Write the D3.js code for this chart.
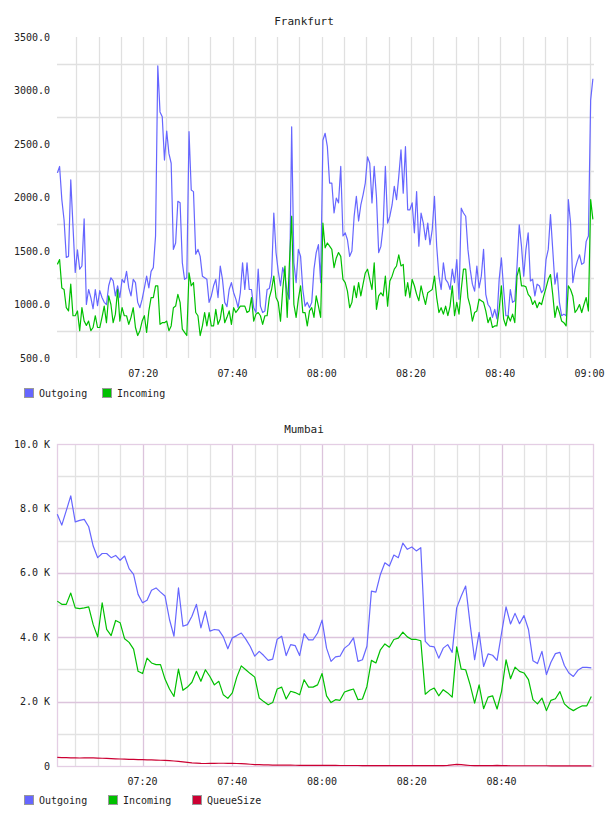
<!DOCTYPE html>
<html>
<head>
<meta charset="utf-8">
<script src="https://cdn.jsdelivr.net/npm/d3@7"></script>
<style>
  body { margin: 0; background: #fff; }
  text { font-family: "DejaVu Sans Mono", monospace; fill: #222; }
</style>
</head>
<body>
<svg id="chart" width="608" height="816"></svg>
<script>
// ---- data ----
const seriesNames = ["Outgoing", "Incoming", "QueueSize"];

// Frankfurt: one sample every 30 s starting 07:00:45
const frankfurtStart = "07:00:45";
const frankfurtStepSec = 30;
const frankfurtOutgoing = [
  2230, 2290, 1980, 1790, 1440, 1450, 2165, 1730, 1300, 1510,
  1330, 1360, 1800, 1000, 1140, 1065, 960, 1140, 990, 1130,
  1065, 1020, 1000, 1175, 1250, 1220, 1080, 1175, 1065, 1235,
  1205, 1310, 1155, 1080, 1235, 1205, 1020, 970, 1050, 1155,
  1265, 1155, 1310, 1345, 1640, 3230, 2800, 2755, 2350, 2620,
  2410, 2320, 1515, 1575, 1965, 1950, 1390, 1235, 1250, 2615,
  2070, 2055, 1470, 1515, 1450, 1265, 1250, 1235, 1020, 1080,
  1175, 1235, 1065, 1360, 1235, 1020, 980, 1140, 1205, 1110,
  1050, 970, 1110, 1390, 1140, 1390, 1140, 1140, 970, 925,
  1330, 985, 925, 940, 1140, 1150, 1265, 1855, 1485, 1310,
  1175, 1345, 1265, 1110, 1050, 2660, 1390, 1205, 1515, 1450,
  1140, 985, 1020, 970, 1020, 1330, 1485, 1560, 1205, 2535,
  2600, 2475, 2135, 2135, 1855, 1995, 1950, 2290, 1640, 1670,
  1605, 1450, 1500, 1825, 2010, 1780, 1930, 2025, 2135, 2380,
  2320, 1950, 2290, 2010, 1485, 1545, 1730, 2290, 1760, 1825,
  1930, 2105, 1980, 2195, 2445, 2040, 2475, 1885, 1885, 1950,
  1670, 2055, 1545, 1855, 1760, 1605, 1760, 1560, 1700, 2010,
  1545, 1265, 1140, 1390, 1235, 1205, 1140, 1330, 1205, 1420,
  1050, 1900, 1855, 1825, 1515, 1330, 1190, 1125, 1360, 1155,
  1265, 1515, 1095, 1000, 970, 880, 955, 865, 1235, 1435,
  1140, 895, 895, 1140, 1020, 1035, 1360, 1745, 1545, 1265,
  1515, 1670, 1220, 1235, 1080, 1190, 1175, 1110, 1140, 1420,
  1515, 1840, 1515, 1190, 1295, 1020, 895, 910, 895, 1980,
  1760, 1205, 1330, 1405, 1465, 1375, 1390, 1590, 1640, 2910,
  3110
];
const frankfurtIncoming = [
  1375, 1420, 1155, 1140, 970, 940, 1190, 895, 895, 940,
  755, 970, 845, 805, 845, 755, 785, 895, 785, 785,
  880, 985, 830, 1080, 1000, 830, 910, 1140, 845, 970,
  895, 895, 815, 880, 970, 785, 710, 755, 845, 895,
  740, 940, 1065, 1065, 1175, 1175, 815, 830, 830, 845,
  755, 800, 970, 985, 1095, 1020, 770, 740, 710, 1295,
  1175, 1205, 925, 895, 710, 800, 925, 800, 925, 800,
  800, 955, 815, 865, 1000, 830, 880, 940, 815, 970,
  925, 955, 985, 985, 985, 925, 940, 1065, 845, 910,
  925, 895, 815, 895, 895, 1065, 1140, 1265, 1065, 1020,
  845, 1140, 1360, 880, 1390, 1825, 1000, 880, 1050, 1175,
  925, 925, 800, 940, 970, 880, 1080, 985, 880, 1760,
  1530, 1575, 1545, 1515, 1345, 1435, 1485, 1450, 1235, 1205,
  1125, 970, 1020, 1175, 1065, 1205, 1080, 1190, 1295, 1330,
  1235, 1140, 1390, 955, 1080, 1110, 1080, 1265, 985, 1220,
  1265, 1330, 1360, 1465, 1360, 1375, 1080, 1205, 1065, 1235,
  1175, 1095, 1035, 1175, 1080, 1000, 1110, 1125, 1140, 1265,
  1065, 925, 970, 910, 985, 895, 985, 1175, 895, 1020,
  910, 1140, 1330, 1330, 1065, 985, 845, 925, 940, 1050,
  1035, 1020, 940, 830, 880, 785, 800, 800, 955, 1175,
  865, 800, 895, 845, 910, 830, 1265, 1345, 1175, 1175,
  1165, 1095, 1070, 1000, 1035, 970, 1020, 1000, 1080, 1155,
  1235, 1280, 1095, 880, 985, 925, 845, 830, 800, 1175,
  1140, 1080, 925, 955, 1000, 925, 1000, 1065, 940, 1980,
  1795
];
const frankfurtYTicks = [500, 1000, 1500, 2000, 2500, 3000, 3500];

// Mumbai: one sample per minute starting 07:01
const mumbaiStart = "07:01:00";
const mumbaiStepSec = 60;
const mumbaiOutgoing = [
  7820, 7480, 7930, 8390, 7580, 7630, 7660, 7430, 6830, 6470,
  6600, 6600, 6470, 6540, 6390, 6520, 6130, 5950, 5330, 5070,
  5150, 5460, 5530, 5400, 5280, 4550, 4030, 5530, 4340, 4390,
  4650, 5020, 4290, 4810, 4190, 4240, 4220, 4010, 3640, 3980,
  4050, 4130, 3940, 3710, 3410, 3560, 3430, 3280, 3320, 3940,
  4030, 3430, 3770, 3740, 3430, 4110, 3920, 3920, 4130, 4530,
  3660, 3250, 3390, 3410, 3660, 3770, 3980, 3250, 3300, 3720,
  5430, 5400, 5950, 6310, 6210, 6550, 6470, 6920, 6730, 6800,
  6680, 6780, 3870, 3720, 3700, 3350, 3660, 3770, 3530, 4910,
  5270, 5590, 4400, 3300, 4150, 3090, 3480, 3440, 3280, 4130,
  4940, 4410, 4740, 4420, 4670, 4240, 3270, 3180, 3560, 2840,
  3220, 3490, 3530, 3120, 2890, 2780, 2970, 3060, 3060, 3050
];
const mumbaiIncoming = [
  5120, 5020, 5020, 5370, 4910, 4890, 4910, 4940, 4390, 4010,
  5070, 4240, 4050, 4520, 4450, 3950, 3840, 3630, 2940, 2870,
  3350, 3200, 3150, 3150, 2700, 2390, 2160, 3010, 2350, 2450,
  2600, 2940, 2630, 2990, 2780, 2520, 2630, 2210, 2100, 2270,
  2760, 3110, 2990, 2870, 2760, 2110, 2000, 1900, 1970, 2390,
  2450, 2080, 2320, 2280, 2210, 2680, 2450, 2450, 2520, 2870,
  2180, 1970, 2060, 2040, 2300, 2350, 2390, 2060, 2080, 2470,
  3280, 3200, 3610, 3790, 3690, 3930, 3970, 4160, 4010, 3930,
  3930, 3890, 2230, 2350, 2420, 2180, 2370, 2270, 2140, 3700,
  3010, 2990, 2520, 1950, 2520, 1780, 2140, 2180, 1770, 2320,
  3300, 2710, 3070, 2940, 2890, 2680, 2060, 1930, 2110, 1720,
  2040, 2090, 2310, 1930, 1800, 1720, 1800, 1870, 1870, 2160
];
const mumbaiQueue = [
  265, 262, 258, 255, 250, 248, 250, 252, 250, 245,
  240, 235, 228, 222, 218, 212, 208, 204, 200, 196,
  192, 188, 182, 178, 172, 165, 155, 145, 130, 115,
  100, 90, 82, 78, 80, 82, 85, 85, 84, 80,
  78, 74, 65, 55, 45, 40, 36, 33, 30, 28,
  27, 26, 25, 24, 22, 21, 20, 20, 19, 18,
  18, 17, 17, 16, 16, 15, 15, 15, 14, 14,
  14, 13, 13, 13, 12, 12, 12, 12, 11, 11,
  11, 11, 10, 10, 10, 10, 12, 20, 35, 50,
  45, 30, 15, 10, 9, 9, 9, 12, 18, 12,
  9, 8, 8, 8, 8, 8, 8, 8, 8, 8,
  7, 7, 7, 7, 7, 7, 7, 7, 7, 7
];
const mumbaiYTicks = [0, 2000, 4000, 6000, 8000, 10000];

const colors = { Outgoing: "#6666ff", Incoming: "#00c000", QueueSize: "#cc0033" };

// ---- drawing ----
const svg = d3.select("#chart");
const parse = d3.timeParse("%H:%M:%S");
const fmtTime = d3.timeFormat("%H:%M");

function toSeries(start, stepSec, values) {
  const t0 = parse(start).getTime();
  return values.map((v, i) => ({ t: new Date(t0 + i * stepSec * 1000), v: v }));
}

function drawPanel(o) {
  const g = svg.append("g");
  const x = d3.scaleTime()
    .domain([parse(o.xDomain[0]), parse(o.xDomain[1])])
    .range([o.left, o.right]);
  const y = d3.scaleLinear().domain(o.yDomain).range([o.bottom, o.top]);

  // grid
  const minorX = x.ticks(d3.timeMinute.every(5)).filter(d => x(d) < o.right - o.skipEdge);
  const grid = g.append("g");
  grid.selectAll(".vx").data(minorX).join("line")
    .attr("x1", d => Math.round(x(d)) + 0.5).attr("x2", d => Math.round(x(d)) + 0.5)
    .attr("y1", o.top).attr("y2", o.bottom)
    .attr("stroke", d => (o.majorColor && d.getMinutes() % 20 === 0) ? o.majorColor : o.gridColor)
    .attr("stroke-width", 1.3);
  grid.selectAll(".hy").data(o.gridY).join("line")
    .attr("x1", o.left).attr("x2", o.right)
    .attr("y1", d => Math.round(y(d)) + 0.5).attr("y2", d => Math.round(y(d)) + 0.5)
    .attr("stroke", d => (o.majorColor && d % 2000 === 0) ? o.majorColor : o.gridColor)
    .attr("stroke-width", 1.3);
  if (o.border) {
    g.append("rect")
      .attr("x", o.left + 0.5).attr("y", o.top + 0.5)
      .attr("width", o.right - o.left - 1).attr("height", o.bottom - o.top)
      .attr("fill", "none").attr("stroke", o.border).attr("stroke-width", 1.3);
  }

  // lines
  const line = d3.line().x(d => x(d.t)).y(d => y(d.v));
  o.series.forEach(s => {
    g.append("path")
      .datum(toSeries(o.start, o.step, s.values))
      .attr("fill", "none")
      .attr("stroke", colors[s.name])
      .attr("stroke-width", 1.2)
      .attr("stroke-linejoin", "round")
      .attr("d", line);
  });

  // y labels
  g.selectAll(".yl").data(o.yTicks).join("text")
    .attr("x", 50).attr("y", d => y(d) + 3.5)
    .attr("text-anchor", "end").attr("font-size", 10)
    .text(o.yFormat);

  // x labels
  const labels = x.ticks(d3.timeMinute.every(20)).filter(d => x(d) < o.right - o.skipEdge);
  g.selectAll(".xl").data(labels).join("text")
    .attr("x", d => x(d)).attr("y", o.bottom + 19)
    .attr("text-anchor", "middle").attr("font-size", 10)
    .text(fmtTime);

  // title
  g.append("text").attr("x", 304).attr("y", o.titleY)
    .attr("text-anchor", "middle").attr("font-size", 11)
    .text(o.title);

  // legend: equal-width items sized by the longest name
  const maxChars = d3.max(o.series, s => s.name.length);
  const itemW = 30 + maxChars * 6;
  const leg = g.selectAll(".leg").data(o.series).join("g")
    .attr("transform", (s, i) => `translate(${24 + i * itemW},${o.legendY})`);
  leg.append("rect").attr("x", 0.5).attr("y", 0.5)
    .attr("width", 9).attr("height", 9)
    .attr("fill", s => colors[s.name]).attr("stroke", "#999");
  leg.append("text").attr("x", 15).attr("y", 8.5)
    .attr("font-size", 10).text(s => s.name);
}

drawPanel({
  title: "Frankfurt", titleY: 25,
  left: 57, right: 594, top: 37, bottom: 358,
  xDomain: ["07:00:40", "09:01:00"], yDomain: [500, 3500],
  start: frankfurtStart, step: frankfurtStepSec,
  series: [
    { name: seriesNames[0], values: frankfurtOutgoing },
    { name: seriesNames[1], values: frankfurtIncoming }
  ],
  gridY: [750, 1250, 1750, 2250, 2750, 3250],
  yTicks: frankfurtYTicks, yFormat: d3.format(".1f"),
  gridColor: "#e0e0e0", majorColor: null, border: null, skipEdge: 0,
  legendY: 388
});

drawPanel({
  title: "Mumbai", titleY: 433,
  left: 57, right: 594, top: 444, bottom: 766,
  xDomain: ["07:00:56", "09:00:36"], yDomain: [0, 10000],
  start: mumbaiStart, step: mumbaiStepSec,
  series: [
    { name: seriesNames[0], values: mumbaiOutgoing },
    { name: seriesNames[1], values: mumbaiIncoming },
    { name: seriesNames[2], values: mumbaiQueue }
  ],
  gridY: d3.range(1000, 10000, 1000),
  yTicks: mumbaiYTicks, yFormat: d => d === 0 ? "0" : (d / 1000).toFixed(1) + " K",
  gridColor: "#e2e2e2", majorColor: "#dcc4dc", border: "#e4cee4", skipEdge: 5,
  legendY: 795
});
</script>
</body>
</html>
